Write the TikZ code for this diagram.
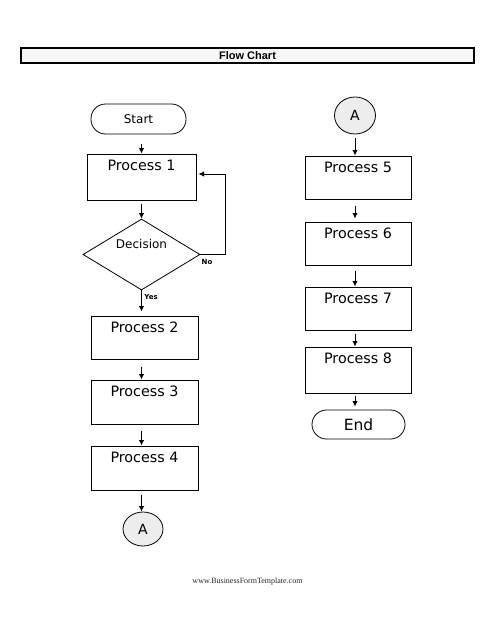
\documentclass[tikz,border=0pt]{standalone}
\usepackage{fontspec}
\setmainfont{DejaVu Sans}
\newfontfamily\arialfont{Liberation Sans}
\newfontfamily\timesfont{Liberation Serif}
\usetikzlibrary{shapes.geometric,arrows.meta,calc}
\tikzset{
  proc/.style={draw, line width=1pt, minimum width=106pt, minimum height=44pt, inner sep=0pt},
  ptxt/.style={font=\fontsize{14.3}{16}\selectfont, anchor=base, inner sep=0pt},
  term/.style={draw, line width=0.8pt, rounded corners=14.5pt, inner sep=0pt},
  conn/.style={draw, ellipse, fill=gray!14, line width=0.8pt, inner sep=0pt, font=\fontsize{14}{16}\selectfont},
  decis/.style={draw, diamond, line width=0.8pt, inner sep=0pt, minimum width=117pt, minimum height=71pt},
  arr/.style={-{Latex[length=5.5pt,width=5.5pt]}, line width=1pt},
  yn/.style={font=\bfseries\fontsize{7}{8}\selectfont, inner sep=0pt}
}
\begin{document}
\begin{tikzpicture}[x=1pt,y=-1pt]
\useasboundingbox (0,0) rectangle (495,640);
% title bar
\node[draw, line width=1.2pt, fill=gray!6, minimum width=453pt, minimum height=15pt, inner sep=0pt,
      font=\arialfont\bfseries\fontsize{11}{12}\selectfont] (title) at (247.5,55.5) {Flow Chart};
% left column
\node[term, minimum width=95pt, minimum height=30pt, font=\fontsize{12}{14}\selectfont] (start) at (138.5,119) {Start};
\node[proc, minimum width=109pt, minimum height=46pt] (p1) at (141.5,177) {};
\node[ptxt] (p1t) at ($(p1.north)+(0,17)$) {Process 1};
\node[decis] (dec) at (141.5,254.5) {};
\node[font=\fontsize{12}{14}\selectfont, inner sep=0pt] (dect) at (141.5,244) {Decision};
\node[proc, minimum width=107pt, minimum height=43pt] (p2) at (144.5,337.5) {};
\node[ptxt] (p2t) at ($(p2.north)+(0,17)$) {Process 2};
\node[proc, minimum width=107pt] (p3) at (144.5,402) {};
\node[ptxt] (p3t) at ($(p3.north)+(0,17)$) {Process 3};
\node[proc, minimum width=107pt] (p4) at (144.5,468) {};
\node[ptxt] (p4t) at ($(p4.north)+(0,17)$) {Process 4};
\node[conn, minimum width=40pt, minimum height=34pt] (a1) at (143,529) {A};
% right column
\node[conn, minimum width=41pt, minimum height=37pt] (a2) at (355,115.5) {A};
\node[proc, minimum height=43pt] (p5) at (358,177.5) {};
\node[ptxt] (p5t) at ($(p5.north)+(0,17)$) {Process 5};
\node[proc, minimum height=43pt] (p6) at (358,243.5) {};
\node[ptxt] (p6t) at ($(p6.north)+(0,17)$) {Process 6};
\node[proc, minimum height=43pt] (p7) at (358,308.5) {};
\node[ptxt] (p7t) at ($(p7.north)+(0,17)$) {Process 7};
\node[proc, minimum height=46pt] (p8) at (358,370) {};
\node[ptxt] (p8t) at ($(p8.north)+(0,17)$) {Process 8};
\node[term, minimum width=93pt, minimum height=29pt, font=\fontsize{15.5}{17}\selectfont] (end) at (358.5,424.5) {End};
% labels
\node[yn] (lno) at (207,262) {No};
\node[yn] (lyes) at (151,297) {Yes};
% arrows left
\draw[arr, shorten <=10pt] (start.south -| dec.center) -- (p1.north -| dec.center);
\draw[arr, shorten <=3pt] (p1.south -| dec.center) -- (dec.north);
\draw[arr, shorten >=4pt] (dec.south) -- (p2.north -| dec.center);
\draw[arr, shorten <=7pt] (p2.south -| dec.center) -- (p3.north -| dec.center);
\draw[arr, shorten <=6pt] (p3.south -| dec.center) -- (p4.north -| dec.center);
\draw[arr, shorten <=4pt] (p4.south -| dec.center) -- (a1.north -| dec.center);
\draw[arr] (dec.east) -- ($(dec.east)+(25,0)$) |- ($(p1.east)+(2,-3)$);
% arrows right
\draw[arr, shorten <=4pt] (a2.south) -- (p5.north -| a2.center);
\draw[arr, shorten <=6pt, shorten >=3pt] (p5.south -| a2.center) -- (p6.north -| a2.center);
\draw[arr, shorten <=5pt] (p6.south -| a2.center) -- (p7.north -| a2.center);
\draw[arr, shorten <=3pt] (p7.south -| a2.center) -- (p8.north -| a2.center);
\draw[arr, shorten <=2pt, shorten >=3pt] (p8.south -| a2.center) -- (end.north -| a2.center);
% footer
\node[font=\timesfont\fontsize{8}{9}\selectfont, text=black!85, inner sep=0pt] (foot) at (247.5,582) {www.BusinessFormTemplate.com};
\end{tikzpicture}
\end{document}
